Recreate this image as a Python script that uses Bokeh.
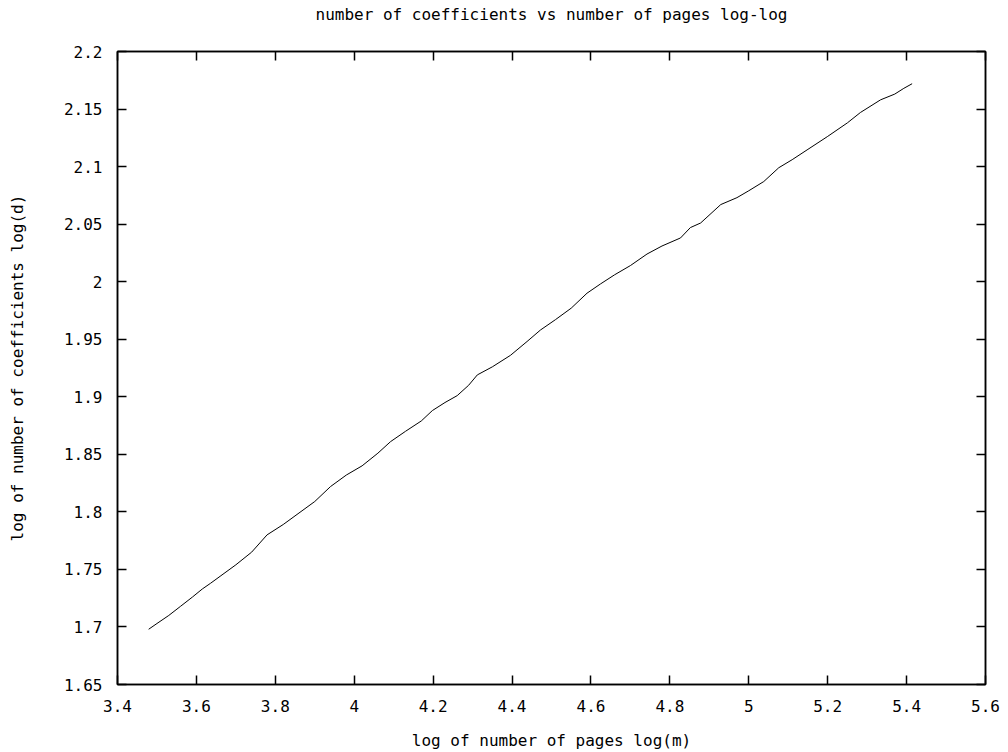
from bokeh.plotting import figure
from bokeh.models import LinearAxis, FixedTicker, Range1d
from bokeh.embed import file_html
from bokeh.resources import INLINE

# data: log(m) vs log(d)
log_m = [3.479, 3.500, 3.530, 3.560, 3.590, 3.615, 3.636, 3.660, 3.700, 3.740,
         3.779, 3.820, 3.860, 3.900, 3.940, 3.980, 4.020, 4.060, 4.092, 4.130,
         4.170, 4.198, 4.230, 4.261, 4.290, 4.312, 4.350, 4.396, 4.438, 4.472,
         4.510, 4.550, 4.590, 4.624, 4.660, 4.700, 4.742, 4.780, 4.827, 4.852,
         4.878, 4.929, 4.970, 5.000, 5.038, 5.076, 5.110, 5.150, 5.199, 5.250,
         5.283, 5.334, 5.370, 5.393, 5.414]
log_d = [1.698, 1.703, 1.710, 1.718, 1.726, 1.733, 1.738, 1.744, 1.754, 1.765,
         1.780, 1.789, 1.799, 1.809, 1.822, 1.832, 1.840, 1.851, 1.861, 1.870,
         1.879, 1.888, 1.895, 1.901, 1.910, 1.919, 1.926, 1.936, 1.948, 1.958,
         1.967, 1.977, 1.990, 1.998, 2.006, 2.014, 2.024, 2.031, 2.038, 2.047,
         2.051, 2.067, 2.073, 2.079, 2.087, 2.099, 2.106, 2.115, 2.126, 2.138,
         2.147, 2.158, 2.163, 2.168, 2.172]

x_ticks = [3.4, 3.6, 3.8, 4.0, 4.2, 4.4, 4.6, 4.8, 5.0, 5.2, 5.4, 5.6]
x_tick_labels = ["3.4", "3.6", "3.8", "4", "4.2", "4.4", "4.6", "4.8", "5", "5.2", "5.4", "5.6"]
y_ticks = [1.65, 1.7, 1.75, 1.8, 1.85, 1.9, 1.95, 2.0, 2.05, 2.1, 2.15, 2.2]
y_tick_labels = ["1.65", "1.7", "1.75", "1.8", "1.85", "1.9", "1.95", "2", "2.05", "2.1", "2.15", "2.2"]

title_text = "number of coefficients vs number of pages log-log"
x_label = "log of number of pages log(m)"
y_label = "log of number of coefficients log(d)"

FONT = "DejaVu Sans Mono"
FS = "16px"

p = figure(width=1000, height=752, output_backend="svg", toolbar_location=None,
           x_range=Range1d(3.4, 5.6), y_range=Range1d(1.65, 2.2),
           min_border_left=117, min_border_right=15, min_border_top=0, min_border_bottom=68,
           x_axis_location=None, y_axis_location=None)
p.title.text = title_text
p.title.align = "center"
p.title.vertical_align = "bottom"
p.title.text_font = FONT
p.title.text_font_size = FS
p.title.text_font_style = "normal"
p.title.text_color = "black"
p.title.standoff = 4

p.xgrid.visible = False
p.ygrid.visible = False
p.outline_line_color = "black"
p.outline_line_width = 1.5
p.background_fill_color = "white"
p.border_fill_color = "white"

def style_axis(ax, ticks, labels, show_labels, hidden_standoff=0, hidden_text=""):
    ax.ticker = FixedTicker(ticks=ticks)
    ax.major_tick_in = 9
    ax.major_tick_out = 0
    ax.minor_tick_in = 0
    ax.minor_tick_out = 0
    ax.major_tick_line_color = "black"
    ax.major_tick_line_width = 1.5
    ax.axis_line_color = "black"
    ax.axis_line_width = 1.5
    ax.major_label_text_font = FONT
    ax.major_label_text_color = "black"
    if show_labels:
        ax.major_label_overrides = {t: l for t, l in zip(ticks, labels)}
        ax.major_label_text_font_size = FS
        ax.major_label_standoff = 15
    else:
        ax.major_label_overrides = {t: hidden_text for t in ticks}
        ax.major_label_text_font_size = "1px"
        ax.major_label_standoff = hidden_standoff

xb = LinearAxis(axis_label=x_label)
style_axis(xb, x_ticks, x_tick_labels, True)
yl = LinearAxis(axis_label=y_label)
style_axis(yl, y_ticks, y_tick_labels, True)
xt = LinearAxis()
style_axis(xt, x_ticks, x_tick_labels, False, hidden_standoff=22, hidden_text=" ")
yr = LinearAxis()
style_axis(yr, y_ticks, y_tick_labels, False)

for ax in (xb, yl):
    ax.axis_label_text_font = FONT
    ax.axis_label_text_font_size = FS
    ax.axis_label_text_font_style = "normal"
    ax.axis_label_text_color = "black"
xb.axis_label_standoff = 16
yl.axis_label_standoff = 34

p.add_layout(xb, "below")
p.add_layout(yl, "left")
p.add_layout(xt, "above")
p.add_layout(yr, "right")

p.line(log_m, log_d, line_color="black", line_width=1)

open("out.html", "w").write(file_html(p, INLINE))
